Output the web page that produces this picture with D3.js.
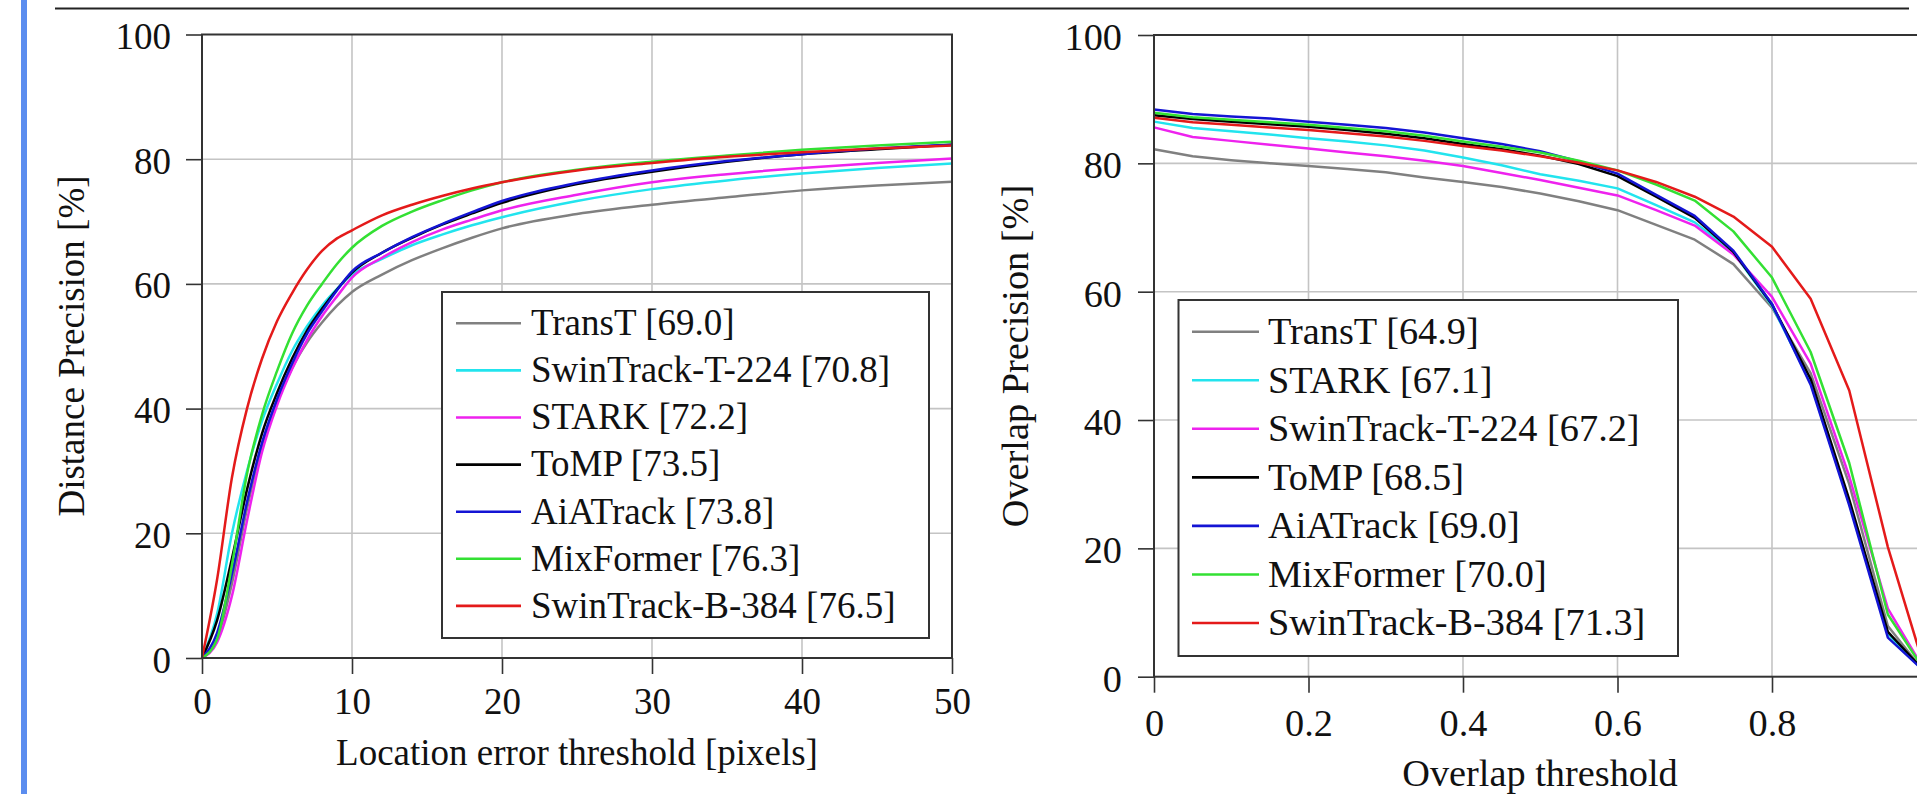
<!DOCTYPE html>
<html>
<head>
<meta charset="utf-8">
<script src="https://cdn.jsdelivr.net/npm/d3@7/dist/d3.min.js"></script>
<style>
  html, body { margin: 0; padding: 0; background: #fff; }
  svg { display: block; }
  text { font-family: "Liberation Serif", "Times New Roman", serif; fill: #111; }
</style>
</head>
<body>
<svg id="fig" width="1917" height="794"></svg>
<script>
// ---------- data: distance precision (left) ----------
const DIST_X = [0, 1, 2, 3, 4, 5, 6, 7, 8, 9, 10, 12, 14, 16, 18, 20, 25, 30, 35, 40, 45, 50];
const DIST_TRANST   = [0, 3, 12, 24, 34, 41, 46.5, 50.6, 53.8, 56.5, 58.7, 61.5, 63.8, 65.7, 67.4, 68.9, 71.2, 72.7, 73.9, 75.0, 75.8, 76.4];
const DIST_SWIN_T   = [0, 7, 20, 30, 38, 44, 49.2, 53.2, 56.5, 59.2, 61.5, 64.0, 66.2, 67.9, 69.4, 70.7, 73.3, 75.2, 76.6, 77.7, 78.6, 79.3];
const DIST_STARK    = [0, 2.5, 10, 22, 33, 40.5, 46.3, 51, 54.8, 58, 61.0, 64.2, 66.7, 68.7, 70.3, 71.8, 74.3, 76.3, 77.6, 78.6, 79.4, 80.1];
const DIST_TOMP     = [0, 6, 16, 27, 36, 42.5, 48, 52.5, 56, 59.1, 61.8, 65.0, 67.4, 69.5, 71.3, 73.0, 76.0, 78.0, 79.6, 80.8, 81.6, 82.3];
const DIST_AIA      = [0, 4, 13.5, 25, 34.5, 41.5, 47.2, 52, 55.6, 59, 62.0, 65.0, 67.5, 69.6, 71.5, 73.3, 76.2, 78.2, 79.7, 80.8, 81.7, 82.3];
const DIST_MIX      = [0, 3, 15, 29.5, 39, 46, 52, 56.5, 60, 63.2, 65.8, 69.3, 71.6, 73.4, 75.0, 76.3, 78.3, 79.6, 80.6, 81.5, 82.2, 82.8];
const DIST_SWIN_B   = [0, 12.5, 29, 40, 48, 54, 58.5, 62.3, 65.3, 67.3, 68.6, 71.0, 72.7, 74.1, 75.3, 76.3, 78.2, 79.4, 80.4, 81.1, 81.7, 82.2];
const DIST_LABELS = ['TransT [69.0]', 'SwinTrack-T-224 [70.8]', 'STARK [72.2]', 'ToMP [73.5]',
                     'AiATrack [73.8]', 'MixFormer [76.3]', 'SwinTrack-B-384 [76.5]'];
const DIST_X_TICKS = [0, 10, 20, 30, 40, 50];

// ---------- data: overlap precision (right) ----------
const OVL_X = [0, 0.05, 0.1, 0.15, 0.2, 0.25, 0.3, 0.35, 0.4, 0.45, 0.5,
               0.55, 0.6, 0.65, 0.7, 0.75, 0.8, 0.85, 0.9, 0.95, 1];
const OVL_TRANST  = [82.2, 81.1, 80.5, 80.0, 79.6, 79.1, 78.6, 77.8, 77.1, 76.3, 75.3, 74.1, 72.7, 70.4, 68.1, 64.3, 57.5, 47.3, 30.0, 7.9, 0.3];
const OVL_STARK   = [86.5, 85.5, 85.0, 84.5, 83.9, 83.4, 82.8, 82.0, 80.9, 79.7, 78.3, 77.3, 76.1, 73.5, 70.8, 66.1, 57.8, 45.8, 27.0, 6.7, 0.4];
const OVL_SWIN_T  = [85.6, 84.1, 83.5, 82.9, 82.3, 81.7, 81.1, 80.4, 79.6, 78.5, 77.4, 76.2, 75.0, 72.7, 70.3, 65.8, 59.2, 48.8, 31.2, 10.6, 0.5];
const OVL_TOMP    = [87.5, 86.9, 86.5, 86.1, 85.7, 85.2, 84.6, 83.9, 83.0, 82.2, 81.2, 79.9, 78.0, 74.8, 71.5, 66.2, 58.0, 46.4, 27.6, 7.0, 0.5];
const OVL_AIA     = [88.4, 87.7, 87.3, 87.0, 86.5, 86.0, 85.5, 84.8, 83.9, 83.0, 81.9, 80.3, 78.4, 75.1, 71.8, 66.4, 58.1, 45.5, 26.7, 6.1, 0.5];
const OVL_MIX     = [87.9, 87.2, 86.8, 86.4, 86.0, 85.5, 85.0, 84.3, 83.4, 82.6, 81.7, 80.4, 78.9, 76.7, 74.2, 69.4, 62.2, 50.6, 33.3, 9.7, 0.5];
const OVL_SWIN_B  = [87.1, 86.4, 86.0, 85.6, 85.2, 84.7, 84.2, 83.5, 82.7, 82.0, 81.1, 80.1, 78.9, 77.1, 74.8, 71.7, 67.0, 58.9, 44.6, 20.2, 0.3];
const OVL_LABELS = ['TransT [64.9]', 'STARK [67.1]', 'SwinTrack-T-224 [67.2]', 'ToMP [68.5]',
                    'AiATrack [69.0]', 'MixFormer [70.0]', 'SwinTrack-B-384 [71.3]'];
const OVL_X_TICKS = [0, 0.2, 0.4, 0.6, 0.8, 1];

const Y_TICKS = [0, 20, 40, 60, 80, 100];
// rank colours (same order in both legends)
const COLORS = ['#808080', '#22e4ee', '#ee22ee', '#000000', '#1414d4', '#33e033', '#e41a1a'];

// ---------- drawing ----------
const svg = d3.select('#fig');
const W = 1917;

// blue side bar and top rule of the page
svg.append('rect').attr('x', 21).attr('y', 0).attr('width', 6).attr('height', 794).attr('fill', '#5b8def');
svg.append('line').attr('x1', 55).attr('x2', 1909).attr('y1', 8.5).attr('y2', 8.5)
  .attr('stroke', '#222').attr('stroke-width', 2);

function drawPanel(p) {
  const fs = p.fs;
  const x = d3.scaleLinear().domain(p.xDomain).range([p.left, p.right]);
  const y = d3.scaleLinear().domain([0, 100]).range([p.bottom, p.top]);
  const g = svg.append('g');

  // grid
  g.append('g').selectAll('line').data(p.xTicks.slice(1, -1)).join('line')
    .attr('x1', d => x(d)).attr('x2', d => x(d)).attr('y1', p.top).attr('y2', p.bottom)
    .attr('stroke', '#c4c4c4').attr('stroke-width', 1.6);
  g.append('g').selectAll('line').data(Y_TICKS.slice(1, -1)).join('line')
    .attr('x1', p.left).attr('x2', p.right).attr('y1', d => y(d)).attr('y2', d => y(d))
    .attr('stroke', '#c4c4c4').attr('stroke-width', 1.6);

  // axes (outward ticks)
  const xa = g.append('g').attr('transform', `translate(0,${p.bottom})`)
    .call(d3.axisBottom(x).tickValues(p.xTicks).tickFormat(p.fmt).tickSize(16).tickPadding(p.xPad));
  const ya = g.append('g').attr('transform', `translate(${p.left},0)`)
    .call(d3.axisLeft(y).tickValues(Y_TICKS).tickFormat(d3.format('d')).tickSize(16).tickPadding(p.yPad));
  [xa, ya].forEach(a => {
    a.select('.domain').remove();
    a.selectAll('.tick line').attr('stroke', '#333').attr('stroke-width', 1.6);
    a.selectAll('.tick text').attr('font-size', fs).attr('font-family', '"Liberation Serif", serif').attr('fill', '#111');
  });
  ya.selectAll('.tick text').attr('dy', '0.38em');
  // labels that fall past the page edge are cut off in the original figure
  xa.selectAll('.tick').filter(d => x(d) > W).select('text').remove();

  // series
  const line = d3.line().x(d => x(d[0])).y(d => y(d[1])).curve(p.curve);
  p.series.forEach((s, i) => {
    g.append('path').datum(p.xs.map((v, k) => [v, s[k]]))
      .attr('d', line).attr('fill', 'none')
      .attr('stroke', COLORS[i]).attr('stroke-width', 2.5).attr('stroke-linejoin', 'round');
  });

  // frame
  g.append('rect').attr('x', p.left).attr('y', p.top)
    .attr('width', p.right - p.left).attr('height', p.bottom - p.top)
    .attr('fill', 'none').attr('stroke', '#333').attr('stroke-width', 2);

  // legend
  const L = p.legend;
  const lg = g.append('g');
  lg.append('rect').attr('x', L.x).attr('y', L.y).attr('width', L.w).attr('height', L.h)
    .attr('fill', '#fff').attr('stroke', '#333').attr('stroke-width', 2);
  p.labels.forEach((lab, i) => {
    const cy = L.row0 + i * L.step;
    lg.append('line').attr('x1', L.lx0).attr('x2', L.lx1).attr('y1', cy).attr('y2', cy)
      .attr('stroke', COLORS[i]).attr('stroke-width', 2.6);
    lg.append('text').attr('x', L.tx).attr('y', cy).attr('dy', '0.32em')
      .attr('font-size', fs).text(lab);
  });

  // titles
  g.append('text').attr('x', p.xTitle[0]).attr('y', p.xTitle[1])
    .attr('text-anchor', 'middle').attr('font-size', fs).text(p.xLabel);
  g.append('text').attr('transform', `translate(${p.yTitle[0]},${p.yTitle[1]}) rotate(-90)`)
    .attr('text-anchor', 'middle').attr('font-size', fs).text(p.yLabel);
}

drawPanel({
  left: 202, right: 952, top: 34.5, bottom: 658, fs: 37,
  xDomain: [0, 50], xTicks: DIST_X_TICKS, fmt: d3.format('d'), xPad: 14, yPad: 15,
  xs: DIST_X, curve: d3.curveMonotoneX,
  series: [DIST_TRANST, DIST_SWIN_T, DIST_STARK, DIST_TOMP, DIST_AIA, DIST_MIX, DIST_SWIN_B],
  labels: DIST_LABELS,
  legend: { x: 442, y: 292, w: 487, h: 346, lx0: 456, lx1: 521, tx: 531, row0: 323.3, step: 47.1 },
  xLabel: 'Location error threshold [pixels]', xTitle: [577, 765],
  yLabel: 'Distance Precision [%]', yTitle: [84, 346]
});

drawPanel({
  left: 1154, right: 1926.5, top: 35, bottom: 676.7, fs: 38.3,
  xDomain: [0, 1], xTicks: OVL_X_TICKS, fmt: d => (d === 0 || d === 1) ? String(d) : d.toFixed(1), xPad: 16, yPad: 16,
  xs: OVL_X, curve: d3.curveLinear,
  series: [OVL_TRANST, OVL_STARK, OVL_SWIN_T, OVL_TOMP, OVL_AIA, OVL_MIX, OVL_SWIN_B],
  labels: OVL_LABELS,
  legend: { x: 1178.5, y: 300, w: 499.5, h: 356, lx0: 1192, lx1: 1259, tx: 1268, row0: 331.7, step: 48.55 },
  xLabel: 'Overlap threshold', xTitle: [1540, 786],
  yLabel: 'Overlap Precision [%]', yTitle: [1028, 356]
});
</script>
</body>
</html>
